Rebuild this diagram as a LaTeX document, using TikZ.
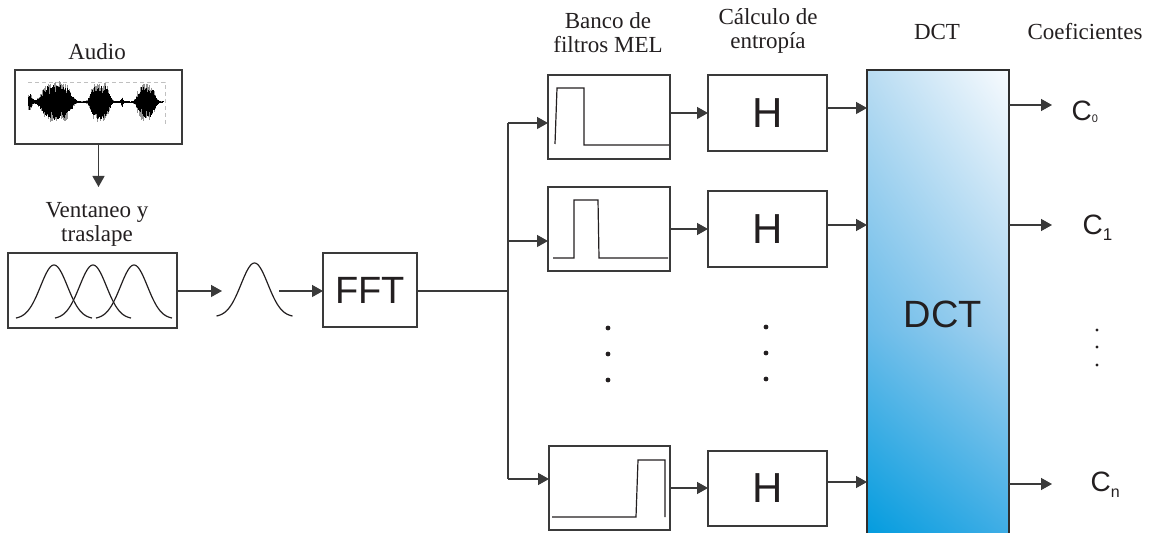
\documentclass[tikz,border=0pt]{standalone}
\usepackage{fontspec}
\setmainfont{Liberation Serif}
\setsansfont{Liberation Sans}
\usetikzlibrary{arrows.meta,calc,backgrounds,shadings}
\definecolor{ink}{RGB}{35,31,32}
\definecolor{edge}{RGB}{58,58,58}
\definecolor{wgray}{RGB}{150,150,150}
\definecolor{dA}{RGB}{185,220,242}
\definecolor{dB}{RGB}{248,251,254}
\definecolor{dC}{RGB}{105,187,233}
\definecolor{dD}{RGB}{165,210,239}
\definecolor{dE}{RGB}{0,155,222}
\definecolor{dF}{RGB}{60,172,229}
\begin{document}
\begin{tikzpicture}[x=0.5pt,y=-0.5pt,line width=0.65pt,
  declare function={
    sg(\pp,\cc,\ww)=exp(-(min(abs((\pp-\cc)/\ww),2.2))^4);
    gs(\pp,\cc,\ww)=exp(-(min(abs((\pp-\cc)/\ww),4.5))^2);
    env(\pp)=0.7+17*sg(\pp,56,16)+17*sg(\pp,100,10)+15*sg(\pp,146,9.5)+8*gs(\pp,29.5,3)+5*gs(\pp,122,1.2);
  },
  blk/.style={draw=edge,line width=0.7pt,inner sep=0pt,outer sep=0pt,anchor=north west,
    font=\sffamily\color{ink}},
  lbl/.style={align=center,inner sep=0pt,font=\fontsize{11.5}{12}\selectfont\color{ink}},
  arr/.style={draw=edge,-{Triangle[length=5.5pt,width=6pt]}},
  wire/.style={draw=edge},
  curve/.style={draw=ink,line width=0.6pt},
  dot/.style={fill=ink},
  coef/.style={anchor=base west,inner sep=0pt,font=\sffamily\fontsize{14}{14}\selectfont\color{ink}}
]
\clip (0,0) rectangle (1166,533);

% ---- audio input ----
\node[lbl] (audiolbl) at (97,52) {Audio};
\node[blk,minimum width=83.5pt,minimum height=37pt] (audio) at (15,70) {};
\draw[wgray!60,line width=0.3pt,dash pattern=on 2pt off 1.5pt] (28,82) -- (165,82) -- (165,127);
\pgfmathsetseed{11}
\foreach \t in {28,28.6,...,163}{
  \pgfmathsetmacro\ea{env(\t)*(0.6+0.6*rnd)}
  \pgfmathsetmacro\eb{env(\t)*(0.6+0.6*rnd)}
  \draw[wgray,line width=0.45pt] (\t,102-\ea) -- (\t,102+\eb);
}
\foreach \t in {28,28.5,...,163}{
  \pgfmathsetmacro\ea{env(\t)*(0.45+0.55*rnd)}
  \pgfmathsetmacro\eb{env(\t)*(0.45+0.55*rnd)}
  \draw[black,line width=0.45pt] (\t,102-\ea) -- (\t,102+\eb);
}
\draw[black,line width=0.4pt] (28,102) -- (163,102);

% ---- windowing ----
\node[lbl] (winlbl) at (97,224) {Ventaneo y\\traslape};
\coordinate (wtop) at (97,187);
\draw[arr] (audio.south) -- (audio.south |- wtop);
\node[blk,minimum width=84.5pt,minimum height=37.5pt] (win) at (8,253) {};
\foreach \gc in {54,93,134}
  \draw[curve,smooth,domain=-38:38,samples=61] plot ({\gc+\x},{319-54*exp(-(\x/19)*(\x/19))});

\coordinate (g1in) at (222,291);
\coordinate (g1out) at (279,291);
\draw[arr] (win.east |- g1in) -- (g1in);
\draw[curve,smooth,domain=-38:38,samples=61] plot ({254.5+\x},{317-54*exp(-(\x/19)*(\x/19))});

% ---- FFT ----
\node[blk,minimum width=47pt,minimum height=37pt,font=\sffamily\fontsize{19}{19}\selectfont\color{ink}] (fft) at (323,253) {FFT};
\draw[arr] (g1out) -- (g1out -| fft.west);

% ---- Mel filter bank ----
\node[lbl] (mellbl) at (608,33) {Banco de\\filtros MEL};
\node[blk,minimum width=61pt,minimum height=42pt] (f1) at (548,75) {};
\node[blk,minimum width=61pt,minimum height=42pt] (f2) at (548,187) {};
\node[blk,minimum width=60.5pt,minimum height=42pt] (fn) at (549,446) {};
\draw[curve] (555,144) -- (557,88) -- (584,88) -- (584,145) -- (669,145);
\draw[curve] (553,258) -- (574,258) -- (574,200) -- (598,200) -- (599,258) -- (668,258);
\draw[curve] (552,517) -- (636,517) -- (638,460) -- (665,460) -- (665,517);

% splitting trunk
\coordinate (split) at (508,291);
\coordinate (b1) at (508,123);
\coordinate (b2) at (508,241);
\coordinate (bn) at (508,479);
\draw[wire] (fft.east |- split) -- (split);
\draw[wire] (b1) -- (bn);
\draw[arr] (b1) -- (b1 -| f1.west);
\draw[arr] (b2) -- (b2 -| f2.west);
\draw[arr] (bn) -- (bn -| fn.west);

% ---- entropy ----
\node[lbl] (entlbl) at (768,31) {C\'alculo de\\entrop\'ia};
\node[blk,minimum width=59.5pt,minimum height=38pt,font=\sffamily\fontsize{21}{21}\selectfont\color{ink}] (h1) at (708,75) {H};
\node[blk,minimum width=59.5pt,minimum height=38pt,font=\sffamily\fontsize{21}{21}\selectfont\color{ink}] (h2) at (708,191) {H};
\node[blk,minimum width=59.5pt,minimum height=37.5pt,font=\sffamily\fontsize{21}{21}\selectfont\color{ink}] (hn) at (708,451) {H};
\draw[arr] (f1.east |- h1.west) -- (h1.west);
\draw[arr] (f2.east) -- (f2.east -| h2.west);
\draw[arr] (fn.east) -- (fn.east -| hn.west);

\foreach \yy in {328,354,380} \fill[dot] (608,\yy) circle[radius=1.2pt];
\foreach \yy in {327,353,379} \fill[dot] (766,\yy) circle[radius=1.2pt];

% ---- DCT ----
\node[lbl] (dctlbl) at (937,32) {DCT};
\node[blk,minimum width=71pt,minimum height=235pt,draw=edge!80!black] (dct) at (867,70) {};
\node[inner sep=0pt,font=\sffamily\fontsize{19}{19}\selectfont\color{ink}] (dcttxt) at (943,314) {DCT};
\coordinate (mid) at (0,330);
\begin{scope}[on background layer]
  \shade[upper left=dA,upper right=dB,lower left=dC,lower right=dD]
    (dct.north west) rectangle (dct.east |- mid);
  \shade[upper left=dC,upper right=dD,lower left=dE,lower right=dF]
    (dct.west |- mid) rectangle (dct.south east);
\end{scope}
\coordinate (e1) at (0,108);
\coordinate (e2) at (0,225);
\coordinate (en) at (0,482);
\draw[arr] (h1.east |- e1) -- (dct.west |- e1);
\draw[arr] (h2.east |- e2) -- (dct.west |- e2);
\draw[arr] (hn.east |- en) -- (dct.west |- en);

% ---- coefficients ----
\node[lbl] (coeflbl) at (1085,32) {Coeficientes};
\coordinate (o0) at (1052,105);
\coordinate (o1) at (1052,225);
\coordinate (on) at (1052,484);
\draw[arr] (dct.east |- o0) -- (o0);
\draw[arr] (dct.east |- o1) -- (o1);
\draw[arr] (dct.east |- on) -- (on);
\node[coef] (c0) at (1071,121) {C\raisebox{-1pt}{\fontsize{5.5}{6}\selectfont 0}};
\node[coef] (c1) at (1082,235) {C\raisebox{-3pt}{\fontsize{8.5}{9}\selectfont 1}};
\node[coef] (cn) at (1090,492) {C\raisebox{-2.5pt}{\fontsize{8}{9}\selectfont n}};
\foreach \yy in {330,347,365} \fill[dot] (1097,\yy) circle[radius=0.85pt];
\end{tikzpicture}
\end{document}
